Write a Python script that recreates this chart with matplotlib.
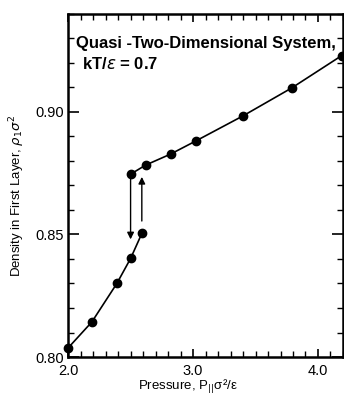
import numpy as np
import matplotlib.pyplot as plt
from matplotlib.ticker import MultipleLocator

# lower (low-density) branch
p_low = [2.0, 2.19, 2.39, 2.50, 2.59]
rho_low = [0.8037, 0.8143, 0.8300, 0.8402, 0.8504]

# upper (high-density) branch
p_up = [2.50, 2.62, 2.82, 3.02, 3.40, 3.79, 4.19]
rho_up = [0.8746, 0.8783, 0.8828, 0.8881, 0.8984, 0.9098, 0.9230]

# hysteresis arrows: (x, y_start, y_end)
arrow_down = (2.50, 0.8738, 0.8480)
arrow_up = (2.59, 0.8555, 0.8735)

plt.rcParams['font.family'] = ['Liberation Sans', 'DejaVu Sans']

fig = plt.figure(figsize=(3.44, 3.98), dpi=100)
ax = fig.add_axes([0.198, 0.103, 0.799, 0.862])

ax.plot(p_low, rho_low, 'k-', lw=1.2, marker='o', ms=6, mfc='k', clip_on=False)
ax.plot(p_up, rho_up, 'k-', lw=1.2, marker='o', ms=6, mfc='k', clip_on=False)

for x, y0, y1 in (arrow_down, arrow_up):
    ax.annotate('', xy=(x, y1), xytext=(x, y0),
                arrowprops=dict(arrowstyle='-|>', color='k', lw=1.0,
                                mutation_scale=10, shrinkA=0, shrinkB=0))

ax.set_xlim(2.0, 4.2)
ax.set_ylim(0.80, 0.94)
ax.set_xticks([2.0, 3.0, 4.0])
ax.set_xticklabels(['2.0', '3.0', '4.0'])
ax.set_yticks([0.80, 0.85, 0.90])
ax.set_yticklabels(['0.80', '0.85', '0.90'])
ax.xaxis.set_minor_locator(MultipleLocator(0.1))
ax.yaxis.set_minor_locator(MultipleLocator(0.01))
ax.tick_params(which='both', direction='in', top=True, right=True, labelsize=10.5)
ax.tick_params(axis='y', which='major', length=8, width=1.2, pad=3)
ax.tick_params(axis='x', which='major', length=6, width=1.2, pad=5)
ax.tick_params(which='minor', length=4, width=1.0)
for s in ax.spines.values():
    s.set_linewidth(1.8)

ax.set_xlabel(r'Pressure, P$_{||}$σ²/ε', fontsize=9.5)
ax.set_ylabel(r'Density in First Layer, $\rho_1\sigma^2$', fontsize=9.5)
ax.xaxis.set_label_coords(0.436, -0.062)
ax.yaxis.set_label_coords(-0.148, 0.47)

ax.text(0.03, 0.915, 'Quasi -Two-Dimensional System,', transform=ax.transAxes,
        fontsize=12, fontweight='bold', va='center')
ax.text(0.05, 0.855, r'kT/$\epsilon$ = 0.7', transform=ax.transAxes,
        fontsize=12, fontweight='bold', va='center')

fig.savefig('out.png', dpi=100)
